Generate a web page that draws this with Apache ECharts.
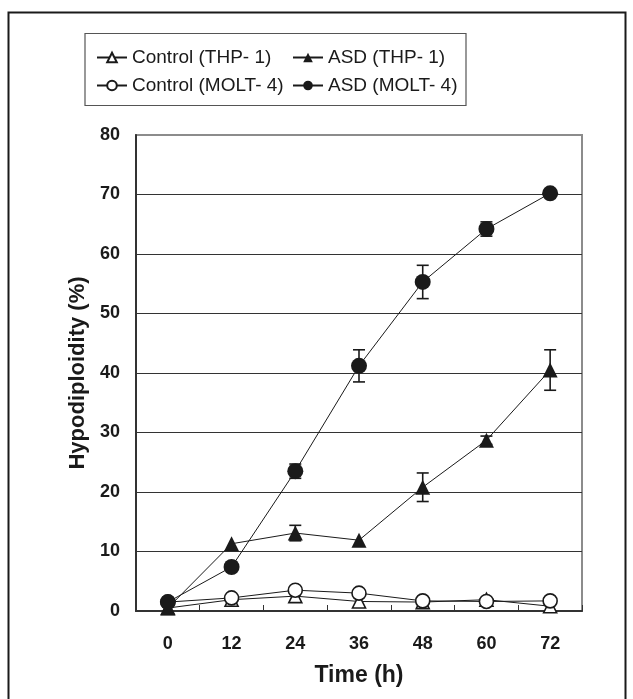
<!DOCTYPE html>
<html>
<head>
<meta charset="utf-8">
<script src="https://cdn.jsdelivr.net/npm/echarts@6/dist/echarts.min.js"></script>
<style>
html,body{margin:0;padding:0;background:#fff;}
#chart{width:633px;height:699px;}
</style>
</head>
<body>
<div id="chart"></div>
<script>
// ---- data ----
const categories = ['0', '12', '24', '36', '48', '60', '72'];
const yTicks = [0, 10, 20, 30, 40, 50, 60, 70, 80];
const controlTHP = [0.5, 1.9, 2.5, 1.6, 1.5, 1.9, 0.8];
const asdTHP = [0.5, 11.3, 13.1, 11.9, 20.8, 28.7, 40.5];
const asdTHPErr = [0, 0, 1.3, 0, 2.4, 0.7, 3.4];
const controlMOLT = [1.5, 2.2, 3.5, 3.0, 1.7, 1.6, 1.7];
const asdMOLT = [1.5, 7.4, 23.5, 41.2, 55.3, 64.2, 70.2];
const asdMOLTErr = [0, 0, 1.2, 2.7, 2.8, 1.2, 0];
const seriesNames = ['Control (THP- 1)', 'ASD (THP- 1)', 'Control (MOLT- 4)', 'ASD (MOLT- 4)'];

function errData(vals, errs) {
  const out = [];
  vals.forEach((v, i) => { if (errs[i] > 0) out.push([i, v - errs[i], v + errs[i]]); });
  return out;
}

function errRender(params, api) {
  const x = api.value(0);
  const lo = api.coord([x, api.value(1)]);
  const hi = api.coord([x, api.value(2)]);
  const w = 6;
  const st = { stroke: '#1a1a1a', lineWidth: 1.6 };
  return {
    type: 'group',
    children: [
      { type: 'line', shape: { x1: lo[0], y1: lo[1], x2: hi[0], y2: hi[1] }, style: st },
      { type: 'line', shape: { x1: lo[0] - w, y1: lo[1], x2: lo[0] + w, y2: lo[1] }, style: st },
      { type: 'line', shape: { x1: hi[0] - w, y1: hi[1], x2: hi[0] + w, y2: hi[1] }, style: st }
    ]
  };
}

const FONT = '"Liberation Sans", Arial, sans-serif';
const lineStyle = { color: '#1a1a1a', width: 1 };
const openStyle = { color: '#ffffff', borderColor: '#1a1a1a', borderWidth: 1.6 };
const filledStyle = { color: '#1a1a1a', borderColor: '#1a1a1a', borderWidth: 0 };

const splitColors = yTicks.map((t, i) => i === yTicks.length - 1 ? '#8c8c8c' : '#333333');

const legendText = { fontFamily: FONT, fontSize: 19, color: '#1a1a1a' };

const chart = echarts.init(document.getElementById('chart'), null, { renderer: 'canvas' });
chart.setOption({
  backgroundColor: '#ffffff',
  animation: false,
  textStyle: { fontFamily: FONT },
  grid: { left: 136, right: 51, top: 135, bottom: 88, show: true, borderColor: '#8c8c8c', borderWidth: 2, backgroundColor: 'transparent' },
  legend: [
    {
      data: [seriesNames[0], seriesNames[2]],
      orient: 'vertical', left: 91, top: 43, itemGap: 9,
      itemWidth: 30, itemHeight: 12,
      textStyle: legendText
    },
    {
      data: [seriesNames[1], seriesNames[3]],
      orient: 'vertical', left: 287, top: 43, itemGap: 9,
      itemWidth: 30, itemHeight: 12,
      textStyle: legendText
    }
  ],
  graphic: [
    { type: 'rect', shape: { x: 85, y: 33.5, width: 381, height: 72 }, style: { fill: 'none', stroke: '#555', lineWidth: 1.2 }, z: 0 },
    { type: 'polyline', shape: { points: [[8.5, 699], [8.5, 12.5], [625.5, 12.5], [625.5, 699]] }, style: { fill: 'none', stroke: '#1a1a1a', lineWidth: 2 }, z: 0 }
  ],
  xAxis: {
    type: 'category',
    data: categories,
    boundaryGap: true,
    name: 'Time (h)',
    nameLocation: 'middle',
    nameGap: 53,
    nameTextStyle: { fontFamily: FONT, fontSize: 23, fontWeight: 'bold', color: '#1a1a1a' },
    axisLine: { lineStyle: { color: '#333', width: 2 } },
    axisTick: { show: true, inside: true, length: 6, lineStyle: { color: '#333', width: 1 } },
    axisLabel: { fontFamily: FONT, fontSize: 18, fontWeight: 'bold', color: '#1a1a1a', margin: 24 },
    splitLine: { show: false }
  },
  yAxis: {
    type: 'value',
    min: 0, max: 80, interval: 10,
    name: 'Hypodiploidity (%)',
    nameLocation: 'middle',
    nameGap: 41,
    nameTextStyle: { fontFamily: FONT, fontSize: 22, fontWeight: 'bold', color: '#1a1a1a' },
    axisLine: { show: true, lineStyle: { color: '#333', width: 2 } },
    axisTick: { show: false },
    axisLabel: { fontFamily: FONT, fontSize: 18, fontWeight: 'bold', color: '#1a1a1a', margin: 16 },
    splitLine: { show: true, lineStyle: { color: splitColors, width: 1 } }
  },
  series: [
    { name: seriesNames[0], type: 'line', data: controlTHP, symbol: 'triangle', symbolSize: 13, showAllSymbol: true, lineStyle: lineStyle, itemStyle: openStyle, z: 3 },
    { name: seriesNames[2], type: 'line', data: controlMOLT, symbol: 'circle', symbolSize: 14, showAllSymbol: true, lineStyle: lineStyle, itemStyle: openStyle, z: 4 },
    { name: seriesNames[1], type: 'line', data: asdTHP, symbol: 'triangle', symbolSize: 15, showAllSymbol: true, lineStyle: lineStyle, itemStyle: filledStyle, z: 5 },
    { name: seriesNames[3], type: 'line', data: asdMOLT, symbol: 'circle', symbolSize: 16, showAllSymbol: true, lineStyle: lineStyle, itemStyle: filledStyle, z: 6 },
    { type: 'custom', name: 'errTHP', data: errData(asdTHP, asdTHPErr), renderItem: errRender, z: 2, silent: true },
    { type: 'custom', name: 'errMOLT', data: errData(asdMOLT, asdMOLTErr), renderItem: errRender, z: 2, silent: true }
  ]
});
</script>
</body>
</html>
